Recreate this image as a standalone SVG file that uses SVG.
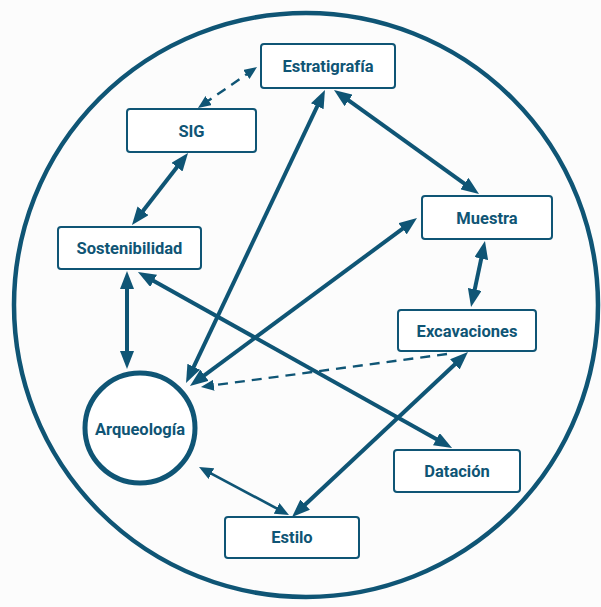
<svg xmlns="http://www.w3.org/2000/svg" width="601" height="607" viewBox="0 0 601 607">
  <defs>
    <style>
      .box { fill: #ffffff; stroke: #0f5575; stroke-width: 2; }
      .label { font-family: "Roboto", "Liberation Sans", sans-serif; font-weight: 700; font-size: 16.5px; fill: #0f5575; text-anchor: middle; dominant-baseline: central; }
      .link { fill: none; stroke: #0f5575; stroke-width: 4; }
      .link-thin { fill: none; stroke: #0f5575; stroke-width: 2.6; }
      .link-dash { fill: none; stroke: #0f5575; stroke-width: 2.4; stroke-dasharray: 10 7; }
    </style>
    <marker id="head" markerUnits="userSpaceOnUse" markerWidth="18" markerHeight="14" refX="9" refY="7" orient="auto-start-reverse">
      <path d="M0,0 L18,7 L0,14 z" fill="#0f5575"/>
    </marker>
    <marker id="head-sm" markerUnits="userSpaceOnUse" markerWidth="14" markerHeight="12" refX="7" refY="6" orient="auto-start-reverse">
      <path d="M0,0 L14,6 L0,12 z" fill="#0f5575"/>
    </marker>
    <marker id="head-dash" markerUnits="userSpaceOnUse" markerWidth="13" markerHeight="11" refX="6.5" refY="5.5" orient="auto-start-reverse">
      <path d="M0,0 L13,5.5 L0,11 z" fill="#0f5575"/>
    </marker>
  </defs>

  <rect width="601" height="607" fill="#fcfcfc"/>

  <!-- outer boundary -->
  <circle id="boundary" cx="306" cy="305" r="292" fill="none" stroke="#0f5575" stroke-width="4.5"/>

  <g id="connectors">
    <line class="link-dash" x1="203.3" y1="104.3" x2="251.7" y2="70.7" marker-start="url(#head-dash)" marker-end="url(#head-dash)"/>
    <line class="link" x1="182.5" y1="160.1" x2="137.5" y2="217.9" marker-start="url(#head)" marker-end="url(#head)"/>
    <line class="link" x1="127" y1="280" x2="127" y2="360" marker-start="url(#head)" marker-end="url(#head)"/>
    <line class="link" x1="145.8" y1="276.4" x2="444.2" y2="443.6" marker-start="url(#head)" marker-end="url(#head)"/>
    <line class="link" x1="189.9" y1="374.9" x2="321.1" y2="98.1" marker-start="url(#head)" marker-end="url(#head)"/>
    <line class="link" x1="197.2" y1="380.6" x2="409.8" y2="223.4" marker-start="url(#head)" marker-end="url(#head)"/>
    <line class="link" x1="341.3" y1="95.2" x2="471.7" y2="188.8" marker-start="url(#head)" marker-end="url(#head)"/>
    <line class="link" x1="483.1" y1="249.8" x2="472.9" y2="298.2" marker-start="url(#head)" marker-end="url(#head)"/>
    <line class="link-dash" x1="447" y1="354" x2="207.4" y2="386.1" marker-end="url(#head-dash)"/>
    <line class="link" x1="461.4" y1="358.2" x2="298.6" y2="510.8" marker-start="url(#head)" marker-end="url(#head)"/>
    <line class="link-thin" x1="205.2" y1="470.3" x2="282.8" y2="511.7" marker-start="url(#head-sm)" marker-end="url(#head-sm)"/>
  </g>

  <g id="estratigrafia">
    <rect class="box" x="261" y="44" width="134" height="44" rx="3"/>
    <text class="label" x="328" y="66">Estratigrafía</text>
  </g>
  <g id="sig">
    <rect class="box" x="127" y="109" width="129" height="43" rx="3"/>
    <text class="label" x="191.5" y="131">SIG</text>
  </g>
  <g id="sostenibilidad">
    <rect class="box" x="58" y="227" width="143" height="42" rx="3"/>
    <text class="label" x="129.5" y="248">Sostenibilidad</text>
  </g>
  <g id="muestra">
    <rect class="box" x="422" y="196" width="130" height="43" rx="3"/>
    <text class="label" x="487" y="218">Muestra</text>
  </g>
  <g id="excavaciones">
    <rect class="box" x="398" y="310" width="138" height="41" rx="3"/>
    <text class="label" x="467" y="331">Excavaciones</text>
  </g>
  <g id="datacion">
    <rect class="box" x="394" y="450" width="126" height="42" rx="3"/>
    <text class="label" x="457" y="471">Datación</text>
  </g>
  <g id="estilo">
    <rect class="box" x="225" y="517" width="134" height="41" rx="3"/>
    <text class="label" x="292" y="537">Estilo</text>
  </g>
  <g id="arqueologia">
    <circle cx="140" cy="428" r="55" fill="#ffffff" stroke="#0f5575" stroke-width="5"/>
    <text class="label" x="140" y="429">Arqueología</text>
  </g>
</svg>
